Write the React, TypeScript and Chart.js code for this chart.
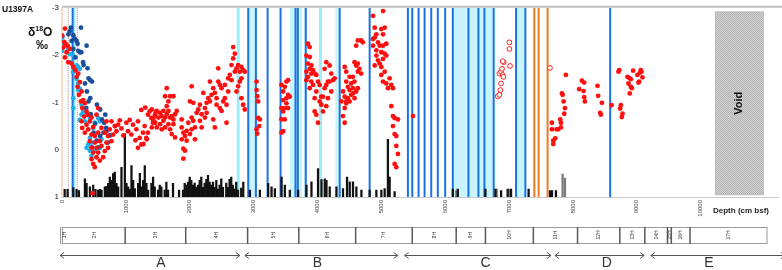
import React, { useEffect, useRef } from 'react';
import { Chart, registerables } from 'chart.js';

Chart.register(...registerables);

// ---------- axis ranges ----------
const DEPTH_MIN = 0;
const DEPTH_MAX = 11220;
const D18O_MIN = -3;
const D18O_MAX = 1;
const BAR_MAX = 60;
const depthTicks = [0, 1000, 2000, 3000, 4000, 5000, 6000, 7000, 8000, 9000, 10000];

// ---------- δ18O data: [depth cm bsf, δ18O ‰] ----------
const redPoints: [number, number][] = [
  [46, -2.56], [4, -2.41], [36, -2.28], [56, -2.23], [20, -2.16], [88, -2.2], [72, -2.06], [124, -2.13], [46, -1.95],
  [98, -1.85], [150, -1.82], [176, -1.75], [212, -1.68], [254, -1.61], [228, -1.54], [280, -1.43], [244, -1.33],
  [306, -1.23], [264, -1.16], [332, -1.05], [296, -1.02], [358, -0.98], [316, -0.88], [384, -0.81], [348, -0.7],
  [410, -0.74], [306, -0.6], [384, -0.53], [436, -0.6], [316, -0.46], [410, -0.43], [488, -0.48], [358, -0.36],
  [462, -0.32], [514, -0.29], [566, -0.36], [436, -0.18], [514, -0.15], [592, -0.18], [462, -0.04], [540, -0.04],
  [618, -0.08], [488, 0.06], [566, 0.06], [670, 0.03], [462, 0.2], [540, 0.16], [644, 0.16], [488, 0.3], [514, 0.37],
  [592, 0.23], [722, -0.04], [696, -0.15], [774, -0.18], [722, -0.29], [800, -0.32], [670, -0.36], [748, -0.43],
  [826, -0.5], [774, -0.6], [878, -0.53], [852, -0.39], [618, -0.46], [696, -0.6], [566, -0.88], [540, -0.74],
  [462, -0.68], [930, -0.45], [960, -0.3], [905, -0.62],
  [1008, -0.57], [1060, -0.63], [1112, -0.53], [1034, -0.39], [1086, -0.32], [1164, -0.43], [1190, -0.6],
  [1216, -0.25], [1242, -0.11], [1268, -0.36], [1294, -0.5], [1242, -0.84], [1304, -0.89], [1346, -0.74],
  [1372, -0.81], [1398, -0.67], [1450, -0.7], [1424, -0.57], [1476, -0.81], [1346, -0.36], [1320, -0.25],
  [1190, -0.04], [1276, -0.12], [1328, -0.22], [1150, -0.2],
  [1406, -0.85], [1458, -0.75], [1432, -0.61], [1484, -0.82], [1510, -0.68], [1536, -0.78], [1562, -0.71],
  [1588, -0.82], [1614, -0.68], [1640, -0.75], [1666, -0.82], [1692, -0.68], [1718, -0.71], [1744, -0.64],
  [1770, -0.75], [1406, -0.47], [1484, -0.47], [1562, -0.43], [1614, -0.47], [1666, -0.54], [1588, -0.61],
  [1536, -0.54], [1458, -0.57], [1692, -0.43], [1744, -0.54], [1718, -0.33], [1770, -0.26], [1640, -1.3],
  [1614, -1.13], [1692, -1.13], [1744, -1.13], [1666, -1.02], [1640, -0.92], [1796, -0.82], [1874, -0.64],
  [1874, -0.47], [1900, -0.36], [1926, -0.29], [1952, -0.19], [1874, -0.22], [1900, -0.02], [1926, 0.02],
  [1900, 0.19], [1952, -0.4], [1978, -0.57], [2004, -0.33], [2030, -1.34], [2004, -1.02], [2056, -0.99],
  [2030, -0.68], [2056, -0.61], [2082, -0.47], [2030, -0.43], [2082, -0.22], [2108, -0.78], [2134, -0.85],
  [2160, -0.95], [2186, -0.75], [2212, -1.2], [2238, -0.88], [2264, -0.99], [2290, -1.09], [2264, -0.78],
  [2316, -1.02], [2342, -1.16], [2160, -0.61], [2186, -0.47], [2238, -0.68], [2316, -1.44], [2368, -1.3],
  [2394, -1.2], [2420, -1.09], [2446, -1.44], [2472, -1.37], [2498, -1.3], [2420, -0.95], [2472, -0.88],
  [2524, -1.02], [2498, -0.82], [2446, -1.72], [2368, -0.64], [2394, -0.47], [2550, -1.09], [2576, -0.95],
  [2550, -1.37], [2602, -1.23], [2628, -1.58], [2654, -1.47], [2576, -0.57], [2602, -1.51], [2654, -1.79],
  [2680, -1.93], [2680, -2.17], [2706, -2.03], [2732, -1.72], [2706, -1.65], [2758, -1.79], [2784, -1.65],
  [2810, -1.75], [2836, -1.68], [2810, -1.51], [2784, -1.44], [2862, -1.65], [2758, -1.34], [2732, -1.23],
  [2810, -1.09], [2836, -0.95], [2862, -0.85],
  [3046, -1.44], [3046, -1.26], [3057, -1.13], [3072, -1.02], [3072, -0.67], [3098, -0.64], [3088, -0.5],
  [3046, -0.43], [3057, -0.34],
  [3436, -1.37], [3514, -1.44], [3540, -1.47], [3488, -1.33], [3462, -1.23], [3540, -1.16], [3514, -1.09],
  [3462, -1.05], [3436, -0.88], [3488, -0.88], [3462, -0.81], [3540, -0.88], [3436, -0.64], [3488, -0.64],
  [3462, -0.39], [3436, -0.36], [3566, -1.12], [3514, -0.98],
  [3852, -2.24], [3878, -2.17], [3826, -1.99], [3878, -1.96], [3852, -1.82], [3904, -1.78], [3826, -1.65],
  [3878, -1.71], [3930, -1.68], [3904, -1.61], [3852, -1.54], [3956, -1.61], [3982, -1.58], [3826, -1.47],
  [3904, -1.44], [3930, -1.37], [3878, -1.3], [4008, -1.44], [3982, -1.23], [4034, -1.37], [4060, -1.12],
  [3956, -1.09], [4086, -1.12], [3956, -0.81], [3982, -0.74], [4008, -0.57], [4034, -1.02], [4112, -1.3],
  [4138, -1.37], [4164, -1.44], [4112, -1.71], [4138, -1.85], [4190, -1.78], [4216, -1.61], [4242, -1.47],
  [4268, -1.51], [4190, -1.44], [4216, -1.23], [4164, -1.09], [4138, -0.92], [4086, -0.81], [4060, -0.95],
  [4400, -1.23], [4426, -1.12], [4374, -1.02], [4450, -0.98], [4426, -0.88], [4400, -0.71], [4426, -0.57],
  [4450, -1.02], [4476, -1.09], [4450, -1.44], [4476, -1.33], [4502, -1.26], [4528, -1.4], [4554, -1.3],
  [4580, -1.44], [4554, -1.19], [4528, -1.16], [4502, -1.02], [4580, -1.09], [4606, -1.23], [4632, -1.3],
  [4580, -1.85], [4606, -1.78], [4632, -1.65], [4632, -1.82], [4658, -1.71], [4684, -1.61], [4606, -2.2],
  [4632, -2.31], [4684, -2.31], [4710, -2.27], [4450, -1.65], [4426, -1.75], [4502, -1.54], [4554, -1.54],
  [4870, -2.83], [5026, -2.93], [4896, -2.58], [4922, -2.44], [4896, -2.37], [5000, -2.55], [5052, -2.58],
  [5026, -2.44], [4948, -2.27], [4870, -2.2], [4974, -2.2], [5026, -2.2], [5078, -2.24], [4922, -2.1],
  [5000, -2.06], [5052, -2.03], [5078, -1.99], [5026, -1.92], [4948, -1.89], [4974, -1.82], [4896, -1.78],
  [5000, -1.75], [4922, -1.99], [4870, -2.34], [5052, -1.65], [5000, -1.58], [5026, -1.44], [5078, -1.4],
  [5130, -1.51], [5156, -1.37], [5182, -1.3], [5156, -0.92], [5182, -0.71], [5208, -0.67], [5260, -0.64],
  [5182, -0.5], [5208, -0.33], [5234, -0.29], [5234, -0.08], [5260, 0.09], [5208, 0.3], [5234, 0.37],
  [5104, -1.3], [5495, -0.71],
  [7671, -0.57], [7671, -0.43], [7692, -0.19], [7692, -0.12], [7723, -0.24], [7744, -0.43], [7770, -0.43],
  [7801, -0.64], [7812, -0.47], [7812, -0.57], [7828, -1.19], [7838, -1.16], [7854, -1.02], [7874, -0.88],
  [7864, -0.76], [7890, -1.58], [8098, -1.28], [8140, -1.46], [8176, -1.42], [8166, -1.24], [8176, -1.11],
  [8187, -1.02], [8385, -1.35], [8395, -1.14], [8426, -0.78], [8437, -0.74], [8453, -0.99], [8604, -0.94],
  [8724, -1.68], [8713, -1.65], [8750, -0.94], [8739, -0.87], [8776, -0.76], [8765, -0.69], [8854, -1.54],
  [8880, -1.52], [8906, -1.49], [8870, -1.4], [8906, -1.33], [8922, -1.3], [8890, -1.19], [8942, -1.67],
  [9010, -1.58], [9036, -1.44], [9026, -1.42], [9062, -1.68], [9073, -1.65], [9052, -1.63], [9088, -1.53],
  [478, 0.92],
];

const navyPoints: [number, number][] = [
  [100, -2.44], [140, -2.58], [177, -2.42], [150, -2.3], [228, -2.3], [244, -2.24], [297, -2.58], [177, -2.13],
  [255, -2.09], [281, -2.06], [385, -2.2], [302, -2.06], [338, -1.79], [400, -1.72], [416, -1.51], [442, -1.47],
  [469, -1.44], [390, -1.23], [442, -1.09], [416, -1.02], [380, -0.88], [547, -0.95], [598, -0.85], [625, -0.64],
  [661, -0.57], [692, -0.46], [650, -0.36], [677, -0.74], [833, -0.5], [598, -0.29], [494, -0.36], [547, -0.19],
  [572, -0.05], [469, -0.05], [200, -2.35], [120, -2.5], [210, -1.95], [330, -1.85], [360, -1.4], [450, -0.75],
  [520, -0.55], [700, -0.4], [750, -0.3], [720, -0.15],
];

const skyPoints: [number, number][] = [
  [4, -2.41], [5, -2.37], [20, -2.27], [2, -2.09], [46, -2.2], [98, -2.13], [124, -2.02], [176, -1.99],
  [150, -1.85], [228, -1.78], [254, -1.75], [280, -1.71], [202, -1.68], [176, -1.64], [228, -1.5], [254, -1.4],
  [280, -1.29], [176, -1.09], [254, -1.26], [306, -0.95], [332, -0.81], [306, -0.74], [280, -0.63], [384, -0.74],
  [436, -0.67], [358, -0.6], [514, -0.57], [592, -0.6], [566, -0.67], [488, -0.46], [436, -0.25], [410, -0.11],
  [462, -0.15], [436, 0.02], [514, 0.02], [540, -0.18], [592, -0.04], [618, -0.22], [462, 0.13], [384, -0.04],
  [176, -0.88],
];

const openPoints: [number, number][] = [
  [6822, -1.13], [6848, -1.16], [6864, -1.26], [6874, -1.4], [6848, -1.61], [6874, -1.65], [6900, -1.58],
  [6911, -1.54], [6890, -1.71], [6916, -1.85], [6900, -1.87], [7005, -2.27], [7005, -2.13], [7015, -1.77],
  [7640, -1.73],
];

// ---------- bar counts: [depth cm bsf, count] ----------
const blackBars: [number, number][] = [
  [42, 2.4], [88, 2.4], [177, 3], [228, 2.4], [265, 2], [359, 5.8], [385, 4.3], [437, 3.2], [489, 3.8], [525, 2.4],
  [567, 2.2], [593, 2.4], [619, 2.2], [671, 3.2], [697, 3.4], [723, 4.3], [749, 6.3], [775, 5.3], [801, 7.4],
  [827, 7.9], [853, 4.3], [879, 3.2], [931, 9.4], [984, 20], [1010, 4.3], [1036, 3.2], [1062, 2.4], [1088, 10],
  [1114, 5.3], [1140, 2.7], [1192, 4.3], [1219, 7.5], [1244, 3.2], [1270, 5.3], [1296, 10], [1322, 4.3],
  [1348, 2.2], [1400, 4.3], [1426, 6.3], [1452, 3.2], [1504, 2.2], [1530, 3.8], [1556, 3.2], [1608, 2.2],
  [1634, 4.7], [1660, 2.2], [1738, 4.3], [1833, 2.2], [1895, 2.2], [1921, 4.3], [1947, 3.8], [1973, 4.7],
  [2000, 6.3], [2025, 5.3], [2051, 3.8], [2078, 4.4], [2103, 3.1], [2130, 3.8], [2156, 5.3], [2181, 6.3],
  [2208, 3.1], [2234, 4.4], [2260, 5.6], [2286, 6.9], [2312, 4.7], [2338, 3.8], [2364, 4.7], [2390, 3.1],
  [2416, 5.3], [2442, 2.5], [2468, 3.8], [2494, 5.8], [2520, 3.1], [2572, 4.4], [2598, 3.1], [2624, 5.6],
  [2650, 6.3], [2676, 3.8], [2702, 2.5], [2728, 4.7], [2755, 2.2], [2806, 2.8], [2838, 4.7], [2942, 2.2],
  [3098, 2.2], [3228, 4.3], [3281, 3.2], [3333, 2.7], [3438, 6.3], [3489, 3.8], [3567, 2.2], [3697, 2.2],
  [3828, 3.8], [3906, 4.8], [4009, 9], [4063, 5.5], [4114, 5.8], [4141, 5.3], [4192, 3.2], [4297, 3.2],
  [4400, 2.7], [4463, 6.3], [4505, 4.8], [4556, 4.8], [4609, 3.2], [4688, 2.2], [4817, 2.2], [4922, 2.2],
  [5000, 2.2], [5052, 2.7], [5103, 18.3], [5130, 6.3], [5208, 1.7], [6119, 2.5], [6197, 2.5], [6630, 2.5],
  [6786, 2.5], [6875, 2], [6978, 2.5], [7031, 2.5], [7306, 2.5], [7641, 2], [7672, 2], [7734, 2],
];
const grayBars: [number, number][] = [
  [6172, 2], [6806, 2.5], [7005, 2.5], [7838, 7.3], [7875, 6],
];

// ---------- marker lines (depth cm bsf) ----------
const blueLines = [166, 2916, 3036, 3219, 3422, 3656, 3692, 3817, 4348, 4817, 5416, 5484, 5583, 5677, 5781, 5884,
  6000, 6119, 6364, 6520, 6614, 6759, 7109, 7255, 8583];
const cyanLines = [184, 2759, 4047];
const cyanBands: [number, number][] = [[2916, 3036], [3570, 3760], [3790, 3817], [4280, 4345], [6119, 6759], [7109, 7255]];
const orangeLinesThin = [0];
const orangeLines = [7395, 7463, 7603];
const dottedLines = [98, 239];
const voidStart = 10223;
const voidEnd = 10989;
const voidTop = -2.92;
const voidBottom = 0.96;

// ---------- cores & intervals ----------
const coreNames = ['1H', '2H', '3H', '4H', '5H', '6H', '7H', '8H', '9H', '10H', '11H', '12H', '13H', '14H', '15H', '16H', '17H'];
const coreEdges = [0, 40, 989, 1937, 2906, 3708, 4598, 5484, 6172, 6630, 7380, 8072, 8734, 9125, 9480, 9540, 9833, 11031];
const unitNames = ['A', 'B', 'C', 'D', 'E'];
const unitStarts = [-30, 2864, 5364, 7719, 9219];
const unitEnds = [2786, 5255, 7656, 9114, 11320];
const unitLabelDepths = [1550, 4000, 6630, 8530, 10130];

const FONT = 'Arial, "Liberation Sans", sans-serif';

const toXY = (arr: [number, number][]) => arr.map(([x, y]) => ({ x, y }));

export default function App() {
  const ref = useRef<HTMLCanvasElement>(null);

  useEffect(() => {
    const canvas = ref.current!;
    const ctx0 = canvas.getContext('2d')!;

    const pc = document.createElement('canvas');
    pc.width = 2; pc.height = 2;
    const pctx = pc.getContext('2d')!;
    pctx.fillStyle = '#d4d4d4'; pctx.fillRect(0, 0, 2, 2);
    pctx.fillStyle = '#b2b2b2'; pctx.fillRect(0, 0, 1, 1); pctx.fillRect(1, 1, 1, 1);
    const voidPattern = ctx0.createPattern(pc, 'repeat');

    const decor = {
      id: 'decor',
      beforeDatasetsDraw(chart: any) {
        const { ctx, chartArea: ca, scales } = chart;
        const x = scales.x;
        ctx.save();
        const vline = (d: number, color: string, w: number, dash?: number[]) => {
          const px = x.getPixelForValue(d);
          ctx.beginPath();
          ctx.strokeStyle = color; ctx.lineWidth = w;
          ctx.setLineDash(dash || []);
          ctx.moveTo(px, ca.top); ctx.lineTo(px, ca.bottom);
          ctx.stroke();
        };
        ctx.fillStyle = '#c8f4fb';
        cyanBands.forEach(([a, b]) => {
          const p1 = x.getPixelForValue(a), p2 = x.getPixelForValue(b);
          ctx.fillRect(p1, ca.top, p2 - p1, ca.bottom - ca.top);
        });
        cyanLines.forEach(d => vline(d, '#9ceefa', 3));
        dottedLines.forEach(d => vline(d, '#9a9a9a', 1, [1, 1]));
        orangeLinesThin.forEach(d => vline(d, '#f0b890', 1));
        orangeLines.forEach(d => vline(d, '#f07a22', 2));
        blueLines.forEach(d => vline(d, '#1a72e6', 2));
        ctx.setLineDash([]);
        // top frame line
        ctx.beginPath();
        ctx.strokeStyle = '#c0c0c0'; ctx.lineWidth = 2;
        ctx.moveTo(ca.left, ca.top - 1); ctx.lineTo(chart.width, ca.top - 1);
        ctx.stroke();
        ctx.restore();
      },
      afterDatasetsDraw(chart: any) {
        const { ctx, scales } = chart;
        const x = scales.x, y = scales.y;
        ctx.save();
        const l = x.getPixelForValue(voidStart), r = x.getPixelForValue(voidEnd);
        const t = y.getPixelForValue(voidTop), b = y.getPixelForValue(voidBottom);
        ctx.fillStyle = voidPattern || '#c8c8c8';
        ctx.fillRect(l, t, r - l, b - t);
        ctx.strokeStyle = '#bdbdbd'; ctx.lineWidth = 1;
        ctx.strokeRect(l + 0.5, t + 0.5, r - l - 1, b - t - 1);
        ctx.translate((l + r) / 2, (t + b) / 2);
        ctx.rotate(-Math.PI / 2);
        ctx.fillStyle = '#111';
        ctx.font = `bold 11px ${FONT}`;
        ctx.textAlign = 'center'; ctx.textBaseline = 'middle';
        ctx.fillText('Void', 0, 0);
        ctx.restore();
      },
      afterDraw(chart: any) {
        const { ctx, scales } = chart;
        const x = scales.x;
        ctx.save();
        // titles
        ctx.fillStyle = '#111';
        ctx.textBaseline = 'alphabetic';
        ctx.textAlign = 'left';
        ctx.font = `bold 8.5px ${FONT}`;
        ctx.fillText('U1397A', 2, 12);
        ctx.font = `bold 12px ${FONT}`;
        ctx.fillText('δ', 28, 36);
        let cx = 28 + ctx.measureText('δ').width;
        ctx.font = `bold 7px ${FONT}`;
        ctx.fillText('18', cx, 31);
        cx += ctx.measureText('18').width;
        ctx.font = `bold 12px ${FONT}`;
        ctx.fillText('O', cx, 36);
        ctx.fillText('‰', 36, 49);
        ctx.font = `bold 8px ${FONT}`;
        ctx.fillStyle = '#222';
        ctx.fillText('Depth (cm bsf)', 713, 213);

        // core strip
        const top = 227, bot = 243;
        const L = x.getPixelForValue(coreEdges[0]);
        const R = x.getPixelForValue(coreEdges[coreEdges.length - 1]);
        ctx.strokeStyle = '#9a9a9a'; ctx.lineWidth = 1;
        ctx.strokeRect(L + 0.5, top + 0.5, R - L, bot - top);
        ctx.beginPath(); ctx.moveTo(L - 1.5, top); ctx.lineTo(L - 1.5, bot + 1); ctx.stroke();
        ctx.strokeStyle = '#5a5a5a'; ctx.lineWidth = 1.5;
        for (let i = 2; i < coreEdges.length - 1; i++) {
          const px = x.getPixelForValue(coreEdges[i]);
          ctx.beginPath(); ctx.moveTo(px, top); ctx.lineTo(px, bot + 1); ctx.stroke();
        }
        ctx.fillStyle = '#333';
        ctx.font = `5px ${FONT}`;
        ctx.textAlign = 'center'; ctx.textBaseline = 'middle';
        coreNames.forEach((n, i) => {
          const c = (x.getPixelForValue(coreEdges[i]) + x.getPixelForValue(coreEdges[i + 1])) / 2;
          ctx.save();
          ctx.translate(i === 0 ? L + 3 : c, (top + bot) / 2);
          ctx.rotate(-Math.PI / 2);
          ctx.fillText(n, 0, 0);
          ctx.restore();
        });

        // interval arrows
        const ay = 255.5;
        ctx.strokeStyle = '#555'; ctx.lineWidth = 1;
        unitNames.forEach((n, i) => {
          const a = x.getPixelForValue(unitStarts[i]);
          const b = x.getPixelForValue(unitEnds[i]);
          ctx.beginPath();
          ctx.moveTo(a, ay); ctx.lineTo(b, ay);
          ctx.moveTo(a + 4, ay - 3); ctx.lineTo(a, ay); ctx.lineTo(a + 4, ay + 3);
          ctx.moveTo(b - 4, ay - 3); ctx.lineTo(b, ay); ctx.lineTo(b - 4, ay + 3);
          ctx.stroke();
          ctx.fillStyle = '#333';
          ctx.font = `14px ${FONT}`;
          ctx.textAlign = 'center'; ctx.textBaseline = 'middle';
          ctx.fillText(n, x.getPixelForValue(unitLabelDepths[i]), 263);
        });
        ctx.restore();
      },
    };

    const chart = new Chart(ctx0, {
      type: 'scatter',
      data: {
        datasets: [
          {
            type: 'scatter', label: 'open', data: toXY(openPoints), order: 1,
            pointRadius: 2.4, pointHoverRadius: 2.4, borderWidth: 1, borderColor: '#ff2020', backgroundColor: '#ffffff',
          },
          {
            type: 'scatter', label: 'red', data: toXY(redPoints), order: 2,
            pointRadius: 2.4, pointHoverRadius: 2.4, borderWidth: 0, backgroundColor: '#ff0f0f',
          },
          {
            type: 'scatter', label: 'navy', data: toXY(navyPoints), order: 3,
            pointRadius: 2.4, pointHoverRadius: 2.4, borderWidth: 0, backgroundColor: '#1c4f9a',
          },
          {
            type: 'scatter', label: 'sky', data: toXY(skyPoints), order: 4,
            pointRadius: 2.4, pointHoverRadius: 2.4, borderWidth: 0, backgroundColor: '#1eb0ea',
          },
          {
            type: 'bar', label: 'bars', data: toXY(blackBars) as any, yAxisID: 'yb', order: 10,
            backgroundColor: '#111', barThickness: 1.6, grouped: false,
          } as any,
          {
            type: 'bar', label: 'bars2', data: toXY(grayBars) as any, yAxisID: 'yb', order: 11,
            backgroundColor: '#7a7a7a', barThickness: 1.6, grouped: false,
          } as any,
        ],
      },
      options: {
        responsive: false,
        animation: false,
        events: [],
        layout: { padding: { top: 5, right: 2, left: 0, bottom: 0 } },
        plugins: { legend: { display: false }, tooltip: { enabled: false } },
        scales: {
          x: {
            type: 'linear', min: DEPTH_MIN, max: DEPTH_MAX, offset: false,
            grid: { display: false, drawTicks: false },
            border: { display: true, color: '#c8c8c8', width: 1 },
            ticks: {
              autoSkip: false, maxRotation: 90, minRotation: 90, padding: 3,
              font: { size: 6, family: FONT }, color: '#444',
              callback: (v: any) => String(v),
            },
            afterBuildTicks: (s: any) => { s.ticks = depthTicks.map(v => ({ value: v })); },
            afterFit: (s: any) => { s.height = 73; },
          },
          y: {
            type: 'linear', min: D18O_MIN, max: D18O_MAX, reverse: true,
            grid: { display: false, drawTicks: false },
            border: { display: false },
            ticks: { stepSize: 1, padding: 3, font: { size: 8, family: FONT }, color: '#222' },
            afterFit: (s: any) => { s.width = 62; },
          },
          yb: {
            type: 'linear', min: 0, max: BAR_MAX, display: false, position: 'right',
          },
        },
      },
      plugins: [decor],
    } as any);

    return () => chart.destroy();
  }, []);

  return (
    <div style={{ position: 'fixed', left: 0, top: 0, width: 782, height: 270, background: '#fff' }}>
      <canvas ref={ref} width={782} height={270} style={{ display: 'block' }} />
    </div>
  );
}
